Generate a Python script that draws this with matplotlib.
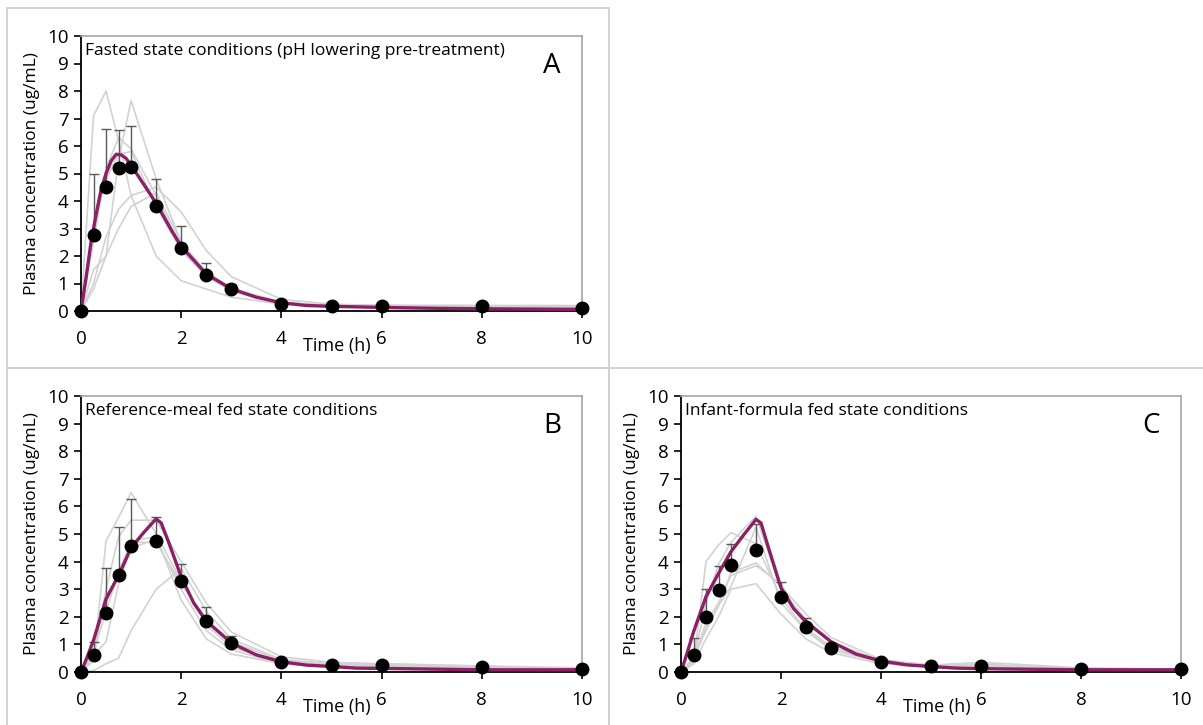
import matplotlib
matplotlib.use("Agg")
import matplotlib.pyplot as plt
from matplotlib.patches import Rectangle

plt.rcParams['font.family'] = ['Open Sans', 'DejaVu Sans']

# ---------------------------------------------------------------------------
# Data
# ---------------------------------------------------------------------------
t_obs = [0, 0.25, 0.5, 0.75, 1.0, 1.5, 2.0, 2.5, 3.0, 4.0, 5.0, 6.0, 8.0, 10.0]

# Panel A: fasted state
a_mean = [0, 2.78, 4.5, 5.2, 5.25, 3.82, 2.3, 1.32, 0.8, 0.27, 0.18, 0.18, 0.18, 0.12]
a_err = [0, 2.22, 2.12, 1.38, 1.48, 0.98, 0.78, 0.44, 0.2, 0.05, 0.03, 0.03, 0.03, 0.02]
a_subjects = [
    [0, 7.1, 8.0, 6.2, 4.2, 2.0, 1.1, 0.8, 0.5, 0.25, 0.2, 0.15, 0.12, 0.1],
    [0, 1.5, 2.0, 5.5, 7.65, 4.8, 2.5, 1.4, 0.8, 0.3, 0.2, 0.2, 0.15, 0.12],
    [0, 1.0, 2.7, 3.7, 4.2, 4.5, 3.6, 2.2, 1.25, 0.42, 0.25, 0.2, 0.2, 0.2],
    [0, 0.8, 2.0, 3.0, 3.8, 4.3, 2.5, 1.4, 0.85, 0.3, 0.2, 0.2, 0.2, 0.15],
    [0, 2.5, 5.2, 6.3, 5.9, 4.2, 2.3, 1.3, 0.8, 0.3, 0.2, 0.2, 0.15, 0.12],
    [0, 3.0, 4.8, 5.7, 5.8, 3.8, 2.2, 1.25, 0.75, 0.3, 0.2, 0.2, 0.15, 0.1],
]
a_sim_t = [0, 0.1, 0.2, 0.3, 0.4, 0.5, 0.6, 0.7, 0.8, 0.9, 1.0, 1.2, 1.4, 1.6,
           1.8, 2.0, 2.5, 3.0, 3.5, 4.0, 4.5, 5.0, 6.0, 7.0, 8.0, 10.0]
a_sim = [0, 1.2, 2.5, 3.5, 4.4, 5.0, 5.45, 5.7, 5.68, 5.55, 5.3, 4.75, 4.2, 3.6,
         2.95, 2.35, 1.35, 0.8, 0.5, 0.3, 0.2, 0.17, 0.13, 0.1, 0.08, 0.06]

# Panel B: reference-meal fed state
b_mean = [0, 0.6, 2.15, 3.53, 4.58, 4.73, 3.3, 1.83, 1.05, 0.38, 0.25, 0.25, 0.18, 0.12]
b_err = [0, 0.5, 1.63, 1.72, 1.7, 0.89, 0.6, 0.52, 0.27, 0.07, 0.05, 0.05, 0.03, 0.02]
b_subjects = [
    [0, 0.4, 4.75, 5.6, 6.5, 5.0, 3.3, 1.7, 0.9, 0.35, 0.25, 0.2, 0.15, 0.1],
    [0, 0.5, 3.0, 4.9, 5.5, 5.5, 4.0, 2.5, 1.45, 0.55, 0.35, 0.3, 0.22, 0.15],
    [0, 1.1, 2.5, 3.5, 4.75, 4.9, 2.6, 1.2, 0.65, 0.3, 0.2, 0.2, 0.15, 0.1],
    [0, 0.05, 0.3, 0.5, 1.5, 3.0, 3.75, 2.2, 1.2, 0.45, 0.3, 0.25, 0.18, 0.12],
    [0, 0.6, 1.1, 3.2, 4.5, 4.8, 3.0, 1.5, 0.8, 0.3, 0.2, 0.25, 0.2, 0.12],
    [0, 0.7, 2.2, 3.6, 4.7, 4.7, 3.2, 1.9, 1.1, 0.4, 0.25, 0.3, 0.2, 0.12],
]
b_sim_t = [0, 0.125, 0.25, 0.5, 0.75, 1.0, 1.25, 1.5, 1.6, 1.75, 2.0, 2.25, 2.5,
           3.0, 3.5, 4.0, 4.5, 5.0, 5.5, 6.0, 8.0, 10.0]
b_sim = [0, 0.55, 1.15, 2.65, 3.5, 4.5, 5.05, 5.55, 5.4, 4.7, 3.45, 2.5, 1.85,
         1.05, 0.62, 0.37, 0.25, 0.2, 0.14, 0.13, 0.08, 0.08]

# Panel C: infant-formula fed state
c_mean = [0, 0.6, 1.98, 2.97, 3.88, 4.42, 2.73, 1.64, 0.88, 0.35, 0.2, 0.2, 0.1, 0.1]
c_err = [0, 0.62, 1.04, 0.88, 0.77, 0.93, 0.52, 0.31, 0.17, 0.05, 0.03, 0.03, 0.02, 0.02]
c_subjects = [
    [0, 0.3, 4.0, 4.6, 5.05, 4.65, 2.7, 1.5, 0.9, 0.35, 0.2, 0.25, 0.12, 0.1],
    [0, 0.4, 2.5, 3.9, 4.7, 5.65, 3.0, 1.9, 1.1, 0.4, 0.25, 0.2, 0.12, 0.1],
    [0, 0.5, 1.6, 2.4, 3.6, 3.95, 3.1, 2.1, 1.25, 0.45, 0.25, 0.35, 0.15, 0.1],
    [0, 0.4, 1.8, 2.5, 3.5, 3.85, 3.2, 1.6, 0.9, 0.35, 0.2, 0.3, 0.1, 0.1],
    [0, 0.3, 1.2, 2.0, 3.0, 3.2, 2.1, 1.2, 0.7, 0.3, 0.2, 0.2, 0.1, 0.08],
    [0, 0.5, 1.5, 2.4, 3.1, 5.25, 2.5, 1.5, 0.8, 0.35, 0.2, 0.25, 0.12, 0.1],
]
c_sim_t = [0, 0.125, 0.25, 0.5, 0.75, 1.0, 1.25, 1.5, 1.6, 1.75, 2.0, 2.25, 2.5,
           3.0, 3.5, 4.0, 4.5, 5.0, 5.5, 6.0, 8.0, 10.0]
c_sim = [0, 0.7, 1.45, 2.73, 3.57, 4.36, 4.96, 5.53, 5.4, 4.5, 3.05, 2.3, 1.82,
         1.1, 0.65, 0.4, 0.26, 0.2, 0.14, 0.12, 0.08, 0.08]

titles = ["Fasted state conditions (pH lowering pre-treatment)",
          "Reference-meal fed state conditions",
          "Infant-formula fed state conditions"]
letters = ["A", "B", "C"]

SIM_COLOR = "#8b2064"
SUBJ_COLOR = "#d2d2d2"
BOX_COLOR = "#d0d0d0"

# ---------------------------------------------------------------------------
# Figure
# ---------------------------------------------------------------------------
fig = plt.figure(figsize=(12.03, 7.25), dpi=100)

# panel frames (pixel coordinates from the top-left)
W, H = 1203.0, 725.0
for x0, y0, x1, y1 in [(7, 8, 609, 368), (7, 368, 609, 740), (609, 368, 1210, 740)]:
    fig.add_artist(Rectangle((x0 / W, 1 - y1 / H), (x1 - x0) / W, (y1 - y0) / H,
                             transform=fig.transFigure, fill=False,
                             edgecolor=BOX_COLOR, linewidth=1.3))

axes_px = [(81, 36, 582, 311), (81, 396, 582, 672), (681, 396, 1181, 672)]
panels = [(a_mean, a_err, a_subjects, a_sim_t, a_sim),
          (b_mean, b_err, b_subjects, b_sim_t, b_sim),
          (c_mean, c_err, c_subjects, c_sim_t, c_sim)]

for (x0, y0, x1, y1), (mean, err, subjects, sim_t, sim), title, letter in zip(
        axes_px, panels, titles, letters):
    ax = fig.add_axes([x0 / W, 1 - y1 / H, (x1 - x0) / W, (y1 - y0) / H])

    for subj in subjects:
        ax.plot(t_obs, subj, color=SUBJ_COLOR, linewidth=1.2, zorder=1)

    ax.errorbar(t_obs, mean, yerr=[[0] * len(err), err], fmt="none",
                ecolor="#595959", elinewidth=1.0, capsize=3.5, capthick=1.0, zorder=2)
    ax.plot(sim_t, sim, color=SIM_COLOR, linewidth=2.4, zorder=3)
    ax.plot(t_obs, mean, "o", color="black", markersize=9, zorder=4, clip_on=False)

    ax.set_xlim(0, 10)
    ax.set_ylim(0, 10)
    ax.set_xticks(range(0, 11, 2))
    ax.set_yticks(range(0, 11))
    ax.tick_params(direction="out", length=5, width=1.2, labelsize=13.5,
                   colors="black", pad=4)
    ax.tick_params(axis="x", pad=9)
    for side in ("left", "bottom"):
        ax.spines[side].set_color("black")
        ax.spines[side].set_linewidth(1.3)
    for side in ("top", "right"):
        ax.spines[side].set_color("#a6a6a6")
        ax.spines[side].set_linewidth(1.2)

    ax.set_ylabel("Plasma concentration (ug/mL)", fontsize=12.5, labelpad=5)
    ax.text(0.511, -0.128, "Time (h)", transform=ax.transAxes, fontsize=13,
            ha="center", va="center")
    ax.text(0.008, 0.975, title, transform=ax.transAxes, fontsize=12.5,
            ha="left", va="top")
    ax.text(0.94, 0.89, letter, transform=ax.transAxes, fontsize=20,
            ha="center", va="center")

fig.savefig("out.png", dpi=100)
